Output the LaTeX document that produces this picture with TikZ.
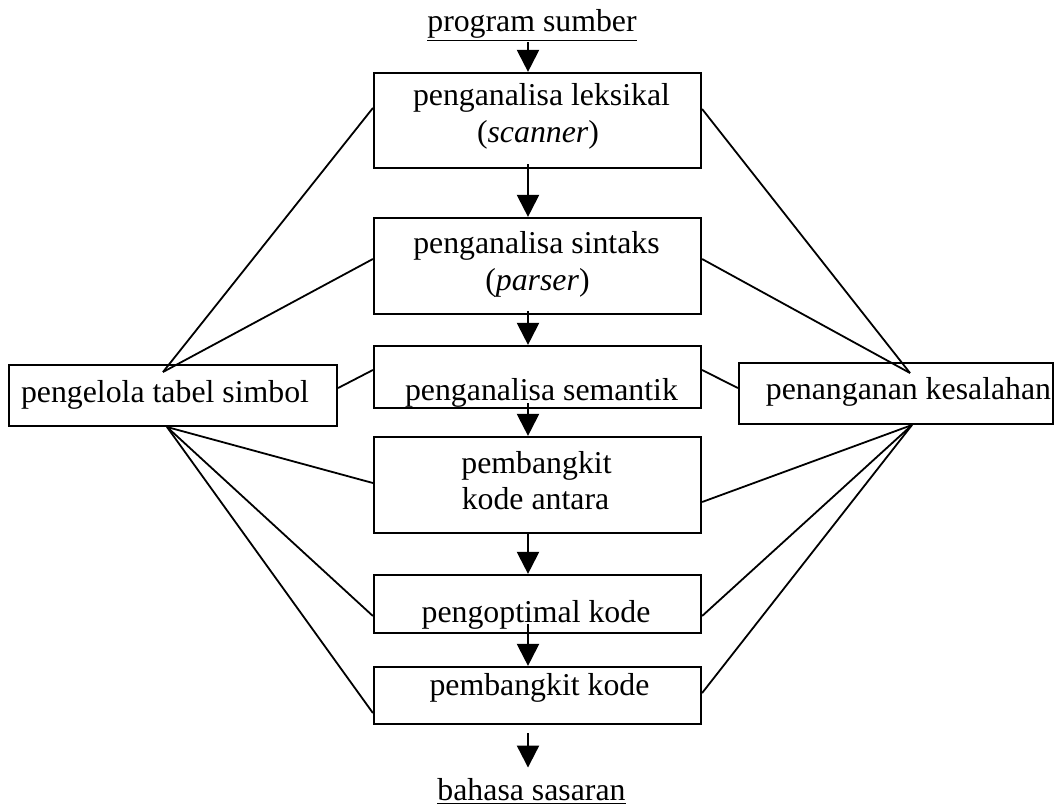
\documentclass[tikz,border=0pt]{standalone}
\usepackage{fontspec}
\setmainfont{Liberation Serif}
\usetikzlibrary{arrows.meta}
\begin{document}
\begin{tikzpicture}[x=0.5pt,y=-0.5pt,
  box/.style={draw, line width=1.1pt, rectangle, inner sep=0pt},
  txt/.style={inner sep=0pt, anchor=base, font=\fontsize{15.9pt}{18.5pt}\selectfont},
  link/.style={line width=0.9pt},
  flow/.style={line width=1.1pt, -{Triangle[width=11pt,length=11pt]}}]
\useasboundingbox (0,0) rectangle (1055,810);

% phase boxes in the middle column
\node[box, minimum width=163.5pt, minimum height=47.5pt] (b1) at (537.5,120.5) {};
\node[box, minimum width=163.5pt, minimum height=48pt]   (b2) at (537.5,266) {};
\node[box, minimum width=163.5pt, minimum height=31pt]   (b3) at (537.5,377) {};
\node[box, minimum width=163.5pt, minimum height=48pt]   (b4) at (537.5,485) {};
\node[box, minimum width=163.5pt, minimum height=29pt]   (b5) at (537.5,604) {};
\node[box, minimum width=163.5pt, minimum height=28.5pt] (b6) at (537.5,695.5) {};

% side boxes
\node[box, minimum width=164pt, minimum height=30.5pt] (L) at (173,395.5) {};
\node[box, minimum width=157pt, minimum height=30.5pt] (R) at (896,393.5) {};

% labels
\node[txt] (src) at (532,31) {\underline{program sumber}};
\node[txt] (t1a) at (541.5,105) {penganalisa leksikal};
\node[txt] (t1b) at (538,142) {(\textit{scanner})};
\node[txt] (t2a) at (536.5,253) {penganalisa sintaks};
\node[txt] (t2b) at (537.5,290) {(\textit{parser})};
\node[txt] (t3) at (541.5,400) {penganalisa semantik};
\node[txt] (t4a) at (536.5,473) {pembangkit};
\node[txt] (t4b) at (535.5,509) {kode antara};
\node[txt] (t5) at (536,622) {pengoptimal kode};
\node[txt] (t6) at (539.5,695) {pembangkit kode};
\node[txt] (tl) at (165,402) {pengelola tabel simbol};
\node[txt] (tr) at (908.5,399) {penanganan kesalahan};
\node[txt] (dst) at (531.5,800) {\underline{bahasa sasaran}};

% meeting points of the side links
\coordinate (Lt) at (163,372);
\coordinate (Lb) at (167,427);
\coordinate (Rt) at (910,373);
\coordinate (Rb) at (912,425);

% links to the symbol table manager
\draw[link] (Lt) -- ([yshift=6.25pt]b1.west);
\draw[link] (Lt) -- ([yshift=3.5pt]b2.west);
\draw[link] ([yshift=3.75pt]L.east) -- ([yshift=3.5pt]b3.west);
\draw[link] (Lb) -- ([yshift=1pt]b4.west);
\draw[link] (Lb) -- ([yshift=-6pt]b5.west);
\draw[link] (Lb) -- ([yshift=-8.75pt]b6.west);

% links to the error handler
\draw[link] (Rt) -- ([yshift=5.75pt]b1.east);
\draw[link] (Rt) -- ([yshift=3.5pt]b2.east);
\draw[link] ([yshift=2.75pt]R.west) -- ([yshift=3.5pt]b3.east);
\draw[link] (Rb) -- ([yshift=-8.5pt]b4.east);
\draw[link] (Rb) -- ([yshift=-6pt]b5.east);
\draw[link] (Rb) -- ([yshift=1.25pt]b6.east);

% main flow
\draw[flow] ([xshift=-2pt]src.south) -- ([xshift=-4.75pt]b1.north);
\draw[flow] ([xshift=-4.75pt,yshift=2.5pt]b1.south) -- ([xshift=-4.75pt]b2.north);
\draw[flow] ([xshift=-4.75pt,yshift=2pt]b2.south) -- ([xshift=-4.75pt]b3.north);
\draw[flow] ([xshift=-4.75pt,yshift=3pt]b3.south) -- ([xshift=-4.75pt]b4.north);
\draw[flow] ([xshift=-4.75pt]b4.south) -- ([xshift=-4.75pt]b5.north);
\draw[flow] ([xshift=-4.75pt,yshift=5pt]b5.south) -- ([xshift=-4.75pt]b6.north);
\draw[flow] ([xshift=-4.75pt,yshift=-4pt]b6.south) -- ([xshift=-1.75pt,yshift=5pt]dst.north);
\end{tikzpicture}
\end{document}
